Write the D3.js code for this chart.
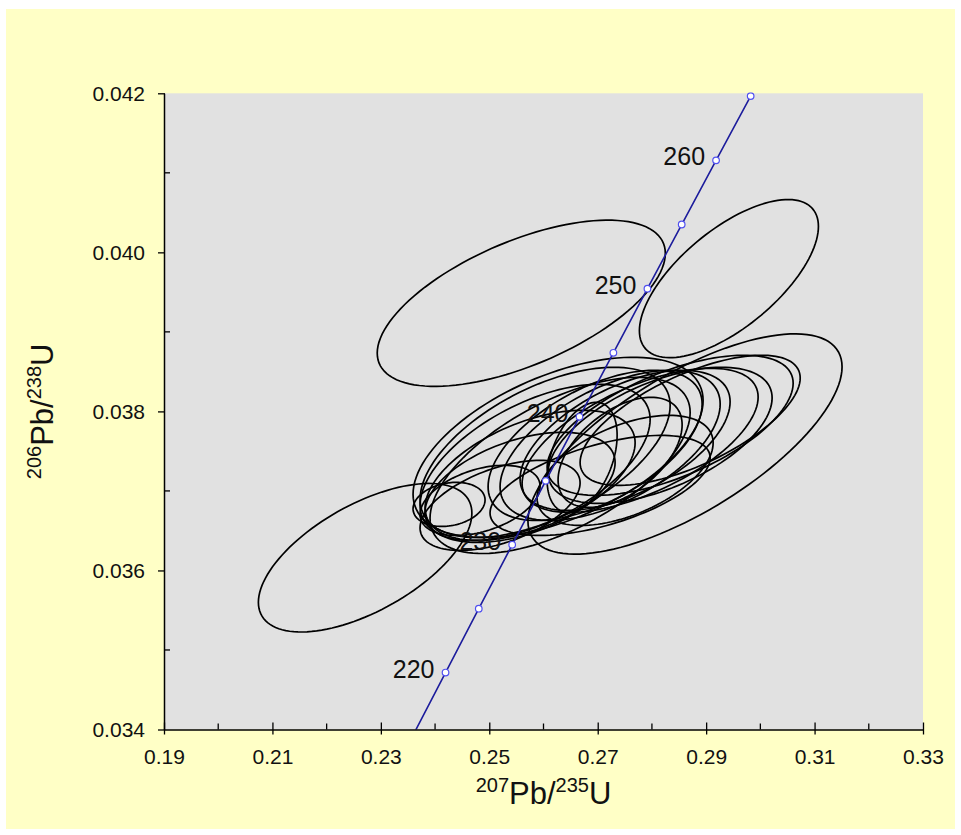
<!DOCTYPE html>
<html>
<head>
<meta charset="utf-8">
<script src="https://cdn.jsdelivr.net/npm/d3@7/dist/d3.min.js"></script>
<style>
  html, body { margin: 0; padding: 0; background: #ffffff; }
  svg { display: block; font-family: "Liberation Sans", Arial, sans-serif; }
</style>
</head>
<body>
<svg id="chart" width="961" height="835"></svg>
<script>
// Concordia curve points (age in Ma, 207Pb/235U, 206Pb/238U)
const concordiaAge = [215, 220, 225, 230, 235, 240, 245, 250, 255, 260, 265];
const concordiaX = [0.23583, 0.24193, 0.24806, 0.25422, 0.26041, 0.26664, 0.27289, 0.27917, 0.28549, 0.29183, 0.29821];
const concordiaY = [0.033914, 0.034716, 0.035519, 0.036323, 0.037127, 0.037932, 0.038737, 0.039543, 0.040350, 0.041157, 0.041965];
const markerAges = [220, 225, 230, 235, 240, 245, 250, 255, 260, 265];
const labelAges = [220, 230, 240, 250, 260];

// Error ellipses: centre, half-extent along each axis, error correlation
const ellipseX   = [0.2559, 0.2942, 0.2271, 0.2861,
                    0.26269, 0.2603, 0.25845, 0.25753, 0.25568, 0.26306, 0.24258, 0.26712, 0.27413,
                    0.28336, 0.28151, 0.27782, 0.27505, 0.27229, 0.26952, 0.27505, 0.27044, 0.2483, 0.25199, 0.28705];
const ellipseY   = [0.03936, 0.03967, 0.03616, 0.03759,
                    0.037548, 0.037485, 0.037359, 0.037196, 0.037045, 0.037321, 0.036831, 0.037422, 0.037485,
                    0.037825, 0.037699, 0.037636, 0.037636, 0.037573, 0.037573, 0.037258, 0.037069, 0.036881, 0.036818, 0.037888];
const ellipseSX  = [0.02657, 0.01651, 0.01969, 0.02897,
                    0.02675, 0.02306, 0.02122, 0.01937, 0.01753, 0.02399, 0.00664, 0.00646, 0.01144,
                    0.02269, 0.02066, 0.02177, 0.01937, 0.0203, 0.01974, 0.01624, 0.0203, 0.01107, 0.01476, 0.0203];
const ellipseSY  = [0.001045, 0.000994, 0.000934, 0.001385,
                    0.001133, 0.00107, 0.000982, 0.000818, 0.000692, 0.001108, 0.000277, 0.000692, 0.000692,
                    0.000881, 0.000856, 0.000906, 0.000881, 0.000944, 0.000944, 0.000692, 0.000629, 0.000441, 0.000566, 0.000818];
const ellipseRho = [0.6, 0.66, 0.6, 0.7,
                    0.52, 0.55, 0.55, 0.5, 0.45, 0.6, 0.2, 0.4, 0.5,
                    0.6, 0.55, 0.6, 0.55, 0.55, 0.55, 0.5, 0.55, 0.4, 0.5, 0.65];

// Axis ticks
const xTicks = [0.19, 0.21, 0.23, 0.25, 0.27, 0.29, 0.31, 0.33];
const xMinorTicks = [0.20, 0.22, 0.24, 0.26, 0.28, 0.30, 0.32];
const yTicks = [0.034, 0.036, 0.038, 0.040, 0.042];
const yMinorTicks = [0.035, 0.037, 0.039, 0.041];

const svg = d3.select("#chart");
const plot = { left: 164, right: 923, top: 93.3, bottom: 729.5 };

const x = d3.scaleLinear().domain([0.19, 0.33]).range([plot.left, plot.right]);
const y = d3.scaleLinear().domain([0.034, 0.042]).range([plot.bottom, plot.top]);

// page background
svg.append("rect").attr("x", 6).attr("y", 9).attr("width", 949).attr("height", 820).attr("fill", "#ffffc6");

// plot area
svg.append("rect")
  .attr("x", plot.left).attr("y", plot.top)
  .attr("width", plot.right - plot.left).attr("height", plot.bottom - plot.top)
  .attr("fill", "#e1e1e1");

svg.append("clipPath").attr("id", "plotClip").append("rect")
  .attr("x", plot.left).attr("y", plot.top - 1)
  .attr("width", plot.right - plot.left).attr("height", plot.bottom - plot.top + 1);

const g = svg.append("g").attr("clip-path", "url(#plotClip)");

// age labels on the concordia
const ageIndex = a => concordiaAge.indexOf(a);
svg.append("g").selectAll("text").data(labelAges).join("text")
  .attr("x", a => x(concordiaX[ageIndex(a)]) - 11)
  .attr("y", a => y(concordiaY[ageIndex(a)]) + 5)
  .attr("text-anchor", "end")
  .attr("font-size", 25)
  .attr("fill", "#111")
  .text(a => a);

// error ellipses
const ellipses = ellipseX.map((cx, i) => {
  const pts = [];
  const rho = ellipseRho[i], k = Math.sqrt(1 - rho * rho);
  for (let j = 0; j <= 120; j++) {
    const t = (j / 120) * 2 * Math.PI;
    pts.push([
      cx + ellipseSX[i] * Math.cos(t),
      ellipseY[i] + ellipseSY[i] * (rho * Math.cos(t) + k * Math.sin(t))
    ]);
  }
  return pts;
});
const line = d3.line().x(d => x(d[0])).y(d => y(d[1])).curve(d3.curveLinearClosed);
g.append("g").selectAll("path").data(ellipses).join("path")
  .attr("d", line)
  .attr("fill", "none")
  .attr("stroke", "#000")
  .attr("stroke-width", 1.7);

// concordia curve
const cLine = d3.line().x(d => x(d[0])).y(d => y(d[1]));
g.append("path")
  .datum(concordiaAge.map((a, i) => [concordiaX[i], concordiaY[i]]))
  .attr("d", cLine)
  .attr("fill", "none")
  .attr("stroke", "#1c1c9c")
  .attr("stroke-width", 1.6);

g.append("g").selectAll("circle").data(markerAges).join("circle")
  .attr("cx", a => x(concordiaX[ageIndex(a)]))
  .attr("cy", a => y(concordiaY[ageIndex(a)]))
  .attr("r", 3.3)
  .attr("fill", "#ffffff")
  .attr("stroke", "#5050f0")
  .attr("stroke-width", 1.2);

// x axis
const xAxis = svg.append("g").attr("transform", `translate(0,${plot.bottom})`)
  .call(d3.axisBottom(x).tickValues(xTicks).tickFormat(d3.format(".2f")).tickSizeOuter(0));
xAxis.select(".domain").attr("stroke", "#000").attr("stroke-width", 1.5);
xAxis.selectAll(".tick line").attr("y1", -7).attr("y2", 5).attr("stroke", "#000").attr("stroke-width", 1.3);
xAxis.selectAll(".tick text").attr("y", 34).attr("dy", 0).attr("font-size", 21)
  .attr("font-family", "Liberation Sans, Arial, sans-serif").attr("fill", "#111");
svg.append("g").selectAll("line").data(xMinorTicks).join("line")
  .attr("x1", d => x(d)).attr("x2", d => x(d))
  .attr("y1", plot.bottom - 6).attr("y2", plot.bottom)
  .attr("stroke", "#000").attr("stroke-width", 1.3);

// y axis
const yAxis = svg.append("g").attr("transform", `translate(${plot.left},0)`)
  .call(d3.axisLeft(y).tickValues(yTicks).tickFormat(d3.format(".3f")).tickSizeOuter(0));
yAxis.select(".domain").attr("stroke", "#000").attr("stroke-width", 1.5);
yAxis.selectAll(".tick line").attr("x1", 1).attr("x2", -6).attr("stroke", "#000").attr("stroke-width", 1.3);
yAxis.selectAll(".tick text").attr("x", -19).attr("dy", "0.35em").attr("font-size", 21)
  .attr("font-family", "Liberation Sans, Arial, sans-serif").attr("fill", "#111");
svg.append("g").selectAll("line").data(yMinorTicks).join("line")
  .attr("x1", plot.left).attr("x2", plot.left + 6)
  .attr("y1", d => y(d)).attr("y2", d => y(d))
  .attr("stroke", "#000").attr("stroke-width", 1.3);

// axis titles with superscript isotope masses
function isotopeTitle(sel, a, b, c, d) {
  sel.append("tspan").attr("font-size", 20).attr("dy", -12).text(a);
  sel.append("tspan").attr("font-size", 31).attr("dy", 12).text(b);
  sel.append("tspan").attr("font-size", 20).attr("dy", -12).text(c);
  sel.append("tspan").attr("font-size", 31).attr("dy", 12).text(d);
}
const xTitle = svg.append("text")
  .attr("x", (plot.left + plot.right) / 2).attr("y", 804)
  .attr("text-anchor", "middle").attr("fill", "#111");
isotopeTitle(xTitle, "207", "Pb/", "235", "U");

const yTitle = svg.append("text")
  .attr("transform", `translate(53,${(plot.top + plot.bottom) / 2}) rotate(-90)`)
  .attr("text-anchor", "middle").attr("fill", "#111");
isotopeTitle(yTitle, "206", "Pb/", "238", "U");
</script>
</body>
</html>
